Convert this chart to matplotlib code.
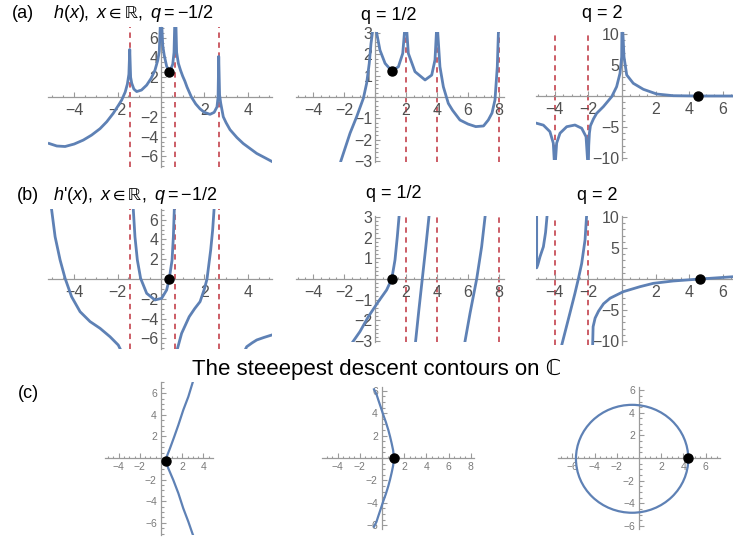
import matplotlib
matplotlib.use('Agg')
import matplotlib.pyplot as plt
from matplotlib.patches import Ellipse
from matplotlib.ticker import MultipleLocator

plt.rcParams['font.family'] = ['Liberation Sans', 'DejaVu Sans']
plt.rcParams['mathtext.fontset'] = 'custom'
plt.rcParams['mathtext.rm'] = 'Liberation Sans'
plt.rcParams['mathtext.it'] = 'Liberation Sans:italic'
plt.rcParams['mathtext.fallback'] = 'stixsans'

# ---- data ----
# row (a): h(x)
a1_x = [-5.15, -4.8, -4.42, -4.0, -3.58, -3.2, -2.81, -2.5, -2.2, -1.95, -1.81, -1.65, -1.55, -1.48,
        -1.44, -1.40, -1.35, -1.25, -1.12, -0.9, -0.66, -0.45, -0.28, -0.15, -0.08, -0.02, 0.02, 0.08,
        0.15, 0.26, 0.37, 0.45, 0.54, 0.6, 0.64, 0.68, 0.72, 0.8, 0.9, 1.0, 1.1, 1.2, 1.4, 1.6, 1.8,
        2.0, 2.26, 2.45, 2.58, 2.63, 2.66, 2.70, 2.75, 2.87, 3.0, 3.18, 3.5, 3.79, 4.1, 4.41, 4.8, 5.1]
a1_y = [-4.7, -4.95, -5.0, -4.75, -4.35, -3.85, -3.2, -2.5, -1.65, -0.8, -0.3, 0.5, 1.3, 2.3,
        4.8, 2.0, 1.4, 0.8, 0.55, 0.7, 1.2, 1.9, 2.7, 3.7, 4.6, 8, 8, 5.2,
        4.2, 3.1, 2.65, 2.8, 3.3, 4.5, 8, 8, 4.5, 3.4, 2.7, 2.1, 1.6, 1.0, 0.0, -0.7, -1.2,
        -1.55, -1.75, -1.55, -1.0, 0.0, 4.1, 0.2, -0.6, -2.0, -2.6, -3.3, -4.1, -4.7, -5.2, -5.7, -6.15, -6.5]

a2_x = [-2.2, -1.61, -1.18, -0.75, -0.54, -0.37, -0.26, -0.17, -0.05, 0.05, 0.11, 0.32, 0.65, 1.08,
        1.51, 1.79, 1.92, 1.99, 2.01, 2.06, 2.15, 2.58, 3.23, 3.66, 3.87, 3.96, 3.99, 4.01, 4.05,
        4.19, 4.41, 4.73, 5.0, 5.48, 6.0, 6.5, 7.0, 7.31, 7.55, 7.74, 7.89, 7.96, 8.0]
a2_y = [-3.0, -1.7, -0.92, -0.06, 0.64, 1.58, 2.5, 3.0, 4.5, 4.5, 3.0, 2.2, 1.58, 1.22,
        1.42, 2.05, 3.2, 4.5, 4.5, 3.0, 2.05, 1.19, 0.8, 1.03, 1.74, 3.0, 4.5, 4.5, 3.0,
        1.42, 0.48, -0.3, -0.62, -1.08, -1.27, -1.39, -1.36, -1.08, -0.75, -0.14, 1.42, 3.0, 4.5]

a3_x = [-5.08, -4.68, -4.29, -4.09, -4.0, -3.89, -3.69, -3.29, -2.8, -2.4, -2.14, -2.01, -1.98, -1.94,
        -1.88, -1.7, -1.51, -1.11, -0.61, -0.32, -0.12, -0.02, 0.0, 0.02, 0.12, 0.28, 0.67, 1.27,
        2.07, 3.05, 4.5, 6.63]
a3_y = [-4.4, -4.7, -5.75, -7.6, -12, -7.6, -6.0, -4.95, -4.68, -5.2, -6.56, -12, -8.0, -6.0,
        -4.8, -3.7, -2.8, -1.72, -0.1, 1.5, 3.66, 6.3, 12, 12, 6.3, 3.4, 2.05, 1.08,
        0.32, 0.05, 0.0, 0.0]

# row (b): h'(x), several branches per panel
b1_branches = [
    ([-5.07, -4.88, -4.65, -4.42, -4.12, -3.73, -3.27, -2.81, -2.35, -1.97, -1.78],
     [7.5, 4.27, 1.92, 0.07, -1.79, -3.3, -4.3, -4.98, -5.83, -6.67, -7.5]),
    ([-1.29, -1.2, -1.09, -0.94, -0.66, -0.28, 0.03, 0.26, 0.38, 0.51, 0.57, 0.62],
     [7.5, 4.27, 1.92, 0.07, -1.45, -2.12, -1.95, -1.11, 0.0, 1.92, 4.27, 7.5]),
    ([0.7, 0.95, 1.3, 1.55, 1.8, 2.0, 2.12, 2.29, 2.38, 2.46],
     [-7.5, -5.49, -3.81, -3.0, -2.29, -1.0, 0.0, 2.93, 4.95, 7.5]),
    ([3.8, 3.95, 4.2, 4.41, 4.75, 5.1],
     [-7.5, -6.84, -6.45, -6.16, -5.9, -5.66]),
]
b2_branches = [
    ([-1.5, -0.97, -0.43, 0.21, 0.75, 1.08, 1.29, 1.44, 1.55],
     [-3.11, -2.54, -1.82, -1.1, -0.53, 0.0, 0.92, 2.05, 3.0]),
    ([2.62, 2.83, 3.05, 3.27, 3.48], [-3.0, -1.5, 0.0, 1.5, 3.0]),
    ([5.81, 6.13, 6.56, 6.88, 7.1], [-3.0, -1.66, 0.0, 1.56, 3.0]),
]
b3_branches = [
    ([-5.08, -5.08, -5.0, -4.88, -4.68, -4.55, -4.45], [10.5, 1.8, 2.4, 3.6, 5.2, 7.5, 10.5]),
    ([-3.62, -3.1, -2.8, -2.6, -2.4, -2.2, -2.1], [-11, -5.5, -2.3, 0.0, 2.5, 6.3, 10.5]),
    ([-1.75, -1.72, -1.6, -1.4, -1.1, -0.71, 0.08, 1.07, 1.86, 3.05, 4.65, 6.63],
     [-11, -7.7, -6.3, -5.2, -4.0, -3.1, -2.04, -1.24, -0.7, -0.32, 0.0, 0.37]),
]

# row (c): steepest descent contours
c1_x = [3.05, 2.99, 2.58, 2.1, 1.64, 1.23, 0.85, 0.54, 0.44, 0.69, 1.16, 1.64, 2.1, 2.58, 2.99, 3.05]
c1_y = [7.2, 7.0, 5.68, 4.44, 3.06, 1.92, 0.9, 0.12, -0.25, -0.96, -2.04, -3.27, -4.66, -5.9, -7.06, -7.2]
c2_x = [-0.72, -0.5, -0.33, -0.1, 0.12, 0.35, 0.57, 0.73, 0.87, 1.0, 1.08,
        1.0, 0.87, 0.73, 0.57, 0.35, 0.12, -0.1, -0.33, -0.5, -0.72]
c2_y = [6.13, 5.7, 5.18, 4.5, 3.84, 3.2, 2.5, 1.9, 1.31, 0.7, 0.0,
        -0.7, -1.31, -1.9, -2.5, -3.2, -3.84, -4.5, -5.18, -5.7, -6.13]
c3_center = (-0.62, -0.07)
c3_width = 10.12
c3_height = 9.55

# poles (dashed lines) and saddle points
poles_q1 = [-1.44, 0.65, 2.67]
poles_q2 = [2, 4, 8]
poles_q3 = [-4, -2]
saddle_a = [(0.37, 2.56), (1.08, 1.22), (4.5, 0.0)]
saddle_b = [(0.38, 0.0), (1.08, 0.0), (4.65, 0.0)]
saddle_c = [(0.44, -0.25), (1.08, 0.0), (4.44, 0.0)]

xt_q1 = [-4, -2, 2, 4]
xt_q2 = [-4, -2, 2, 4, 6, 8]
xt_q3 = [-4, -2, 2, 4, 6]
yt_a1 = [-6, -4, -2, 2, 4, 6]
yt_a2 = [-3, -2, -1, 1, 2, 3]
yt_a3 = [-10, -5, 5, 10]
xt_c3 = [-6, -4, -2, 2, 4, 6]
yt_c = [-6, -4, -2, 2, 4, 6]

BLUE = '#5E81B5'
RED = '#C8505A'
AXC = '#9a9a9a'

W, H = 733, 542
fig = plt.figure(figsize=(W / 100, H / 100), dpi=100)


def lab(v):
    return str(v).replace('-', '\u2212')


def panel(ox, oy, sx, sy, xlim, ylim, xt, yt, xminor, yminor, small=False):
    left = ox + xlim[0] * sx
    right = ox + xlim[1] * sx
    top = oy - ylim[1] * sy
    bottom = oy - ylim[0] * sy
    ax = fig.add_axes([left / W, 1 - bottom / H, (right - left) / W, (bottom - top) / H])
    ax.set_xlim(xlim)
    ax.set_ylim(ylim)
    ax.patch.set_visible(False)
    for s in ['top', 'right']:
        ax.spines[s].set_visible(False)
    for s in ['left', 'bottom']:
        ax.spines[s].set_position(('data', 0))
        ax.spines[s].set_color(AXC)
        ax.spines[s].set_linewidth(0.9)
    ax.set_xticks(xt, labels=[lab(v) for v in xt])
    ax.set_yticks(yt, labels=[lab(v) for v in yt])
    ax.xaxis.set_minor_locator(MultipleLocator(xminor))
    ax.yaxis.set_minor_locator(MultipleLocator(yminor))
    fs = 7.5 if small else 11.5
    lc = '#7a7a7a' if small else '#505050'
    ax.tick_params(which='both', direction='in', color=AXC, width=0.8,
                   labelsize=fs, labelcolor=lc)
    ax.tick_params(which='major', length=3.5)
    ax.tick_params(which='minor', length=1.8)
    ax.tick_params(axis='x', pad=3 if small else 4)
    ax.tick_params(axis='y', pad=3 if small else 2)
    return ax


def poles(ax, xs):
    for p in xs:
        ax.axvline(p, color=RED, lw=1.3, ls=(0, (3, 2.5)), zorder=1)


def dot(ax, pt):
    ax.plot([pt[0]], [pt[1]], 'o', color='black', ms=6.5, zorder=5, clip_on=False)


# row (a)
ax = panel(161, 97, 21.7, 9.9, (-5.2, 5.1), (-7.1, 7.1), xt_q1, yt_a1, 0.5, 0.5)
poles(ax, poles_q1)
ax.plot(a1_x, a1_y, color=BLUE, lw=2.0, zorder=3)
dot(ax, saddle_a[0])

ax = panel(375, 97, 15.5, 21.3, (-5.1, 8.3), (-3.05, 3.05), xt_q2, yt_a2, 0.5, 0.2)
poles(ax, poles_q2)
ax.plot(a2_x, a2_y, color=BLUE, lw=2.0, zorder=3)
dot(ax, saddle_a[1])

ax = panel(622, 96, 16.8, 6.2, (-5.1, 6.63), (-10.3, 10.3), xt_q3, yt_a3, 0.5, 1)
poles(ax, poles_q3)
ax.plot(a3_x, a3_y, color=BLUE, lw=2.0, zorder=3)
dot(ax, saddle_a[2])

# row (b)
ax = panel(161, 279, 21.7, 9.9, (-5.2, 5.1), (-7.1, 7.1), xt_q1, yt_a1, 0.5, 0.5)
poles(ax, poles_q1)
for bx, by in b1_branches:
    ax.plot(bx, by, color=BLUE, lw=2.0, zorder=3)
dot(ax, saddle_b[0])

ax = panel(375, 279, 15.5, 20.7, (-5.1, 8.3), (-3.05, 3.05), xt_q2, yt_a2, 0.5, 0.2)
poles(ax, poles_q2)
for bx, by in b2_branches:
    ax.plot(bx, by, color=BLUE, lw=2.0, zorder=3)
dot(ax, saddle_b[1])

ax = panel(622, 279, 16.8, 6.2, (-5.1, 6.63), (-10.6, 10.2), xt_q3, yt_a3, 0.5, 1)
poles(ax, poles_q3)
for bx, by in b3_branches:
    ax.plot(bx, by, color=BLUE, lw=2.0, zorder=3)
dot(ax, saddle_b[2])

# row (c)
ax = panel(161, 458, 10.6, 10.8, (-5.3, 4.9), (-7.1, 7.0), xt_q1, yt_c, 0.5, 0.5, small=True)
ax.plot(c1_x, c1_y, color=BLUE, lw=1.6, zorder=3)
dot(ax, saddle_c[0])

ax = panel(382, 458, 11.1, 11.2, (-5.4, 8.3), (-6.3, 6.3), xt_q2, yt_c, 0.5, 0.5, small=True)
ax.plot(c2_x, c2_y, color=BLUE, lw=1.6, zorder=3)
dot(ax, saddle_c[1])

ax = panel(639, 458, 11.1, 11.3, (-7.3, 7.3), (-6.3, 6.3), xt_c3, yt_c, 0.5, 0.5, small=True)
ax.add_patch(Ellipse(c3_center, c3_width, c3_height, fill=False, ec=BLUE, lw=1.6, zorder=3))
dot(ax, saddle_c[2])

# titles
fs_t = 13
fig.text(12 / W, 1 - 14 / H, '(a)', fontsize=13, va='center', ha='left')
fig.text(53 / W, 1 - 14 / H, r'$h(x),\ x \in ℝ,\ q = -1/2$', fontsize=fs_t, va='center', ha='left')
fig.text(389 / W, 1 - 15 / H, 'q = 1/2', fontsize=fs_t, va='center', ha='center')
fig.text(602 / W, 1 - 14 / H, 'q = 2', fontsize=fs_t, va='center', ha='center')

fig.text(17 / W, 1 - 195 / H, '(b)', fontsize=13, va='center', ha='left')
fig.text(53 / W, 1 - 195 / H, r"$h$'$(x),\ x \in ℝ,\ q = -1/2$", fontsize=fs_t, va='center', ha='left')
fig.text(394 / W, 1 - 194 / H, 'q = 1/2', fontsize=fs_t, va='center', ha='center')
fig.text(597 / W, 1 - 195 / H, 'q = 2', fontsize=fs_t, va='center', ha='center')

fig.text(377 / W, 1 - 369 / H, 'The steeepest descent contours on \u2102', fontsize=16,
         va='center', ha='center')
fig.text(18 / W, 1 - 393 / H, '(c)', fontsize=13, va='center', ha='left')

fig.savefig('out.png', dpi=100)
